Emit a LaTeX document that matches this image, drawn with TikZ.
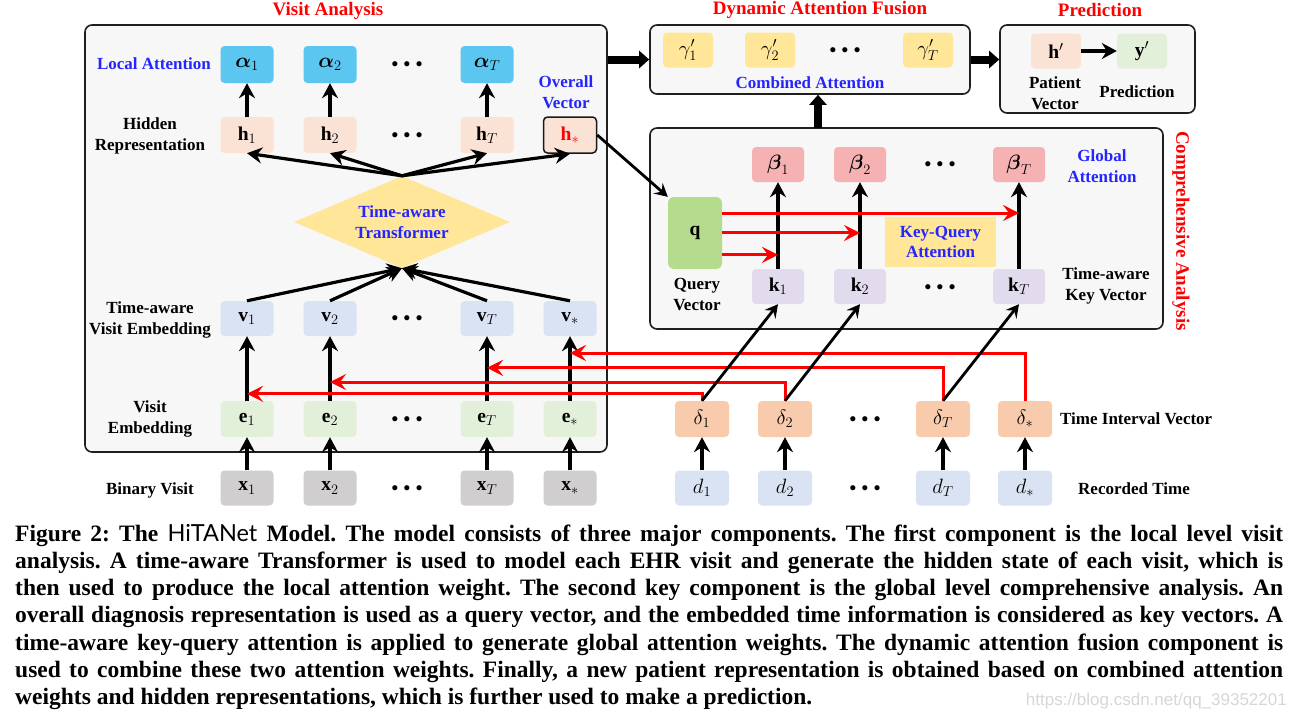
\documentclass[tikz,border=0pt]{standalone}
\usepackage{amsmath,amssymb}
\usepackage{fontspec}
\setmainfont{Liberation Serif}
\newfontfamily\capsans{Lato}
\newfontfamily\wmfont{Liberation Sans}
\usetikzlibrary{arrows.meta,shapes.geometric,calc}
\definecolor{panelgray}{RGB}{247,247,247}
\definecolor{calpha}{RGB}{91,198,240}
\definecolor{chid}{RGB}{250,226,213}
\definecolor{cv}{RGB}{218,227,243}
\definecolor{ce}{RGB}{226,240,217}
\definecolor{cx}{RGB}{208,206,206}
\definecolor{cdiam}{RGB}{255,230,153}
\definecolor{cbeta}{RGB}{246,178,178}
\definecolor{cq}{RGB}{181,220,140}
\definecolor{ck}{RGB}{226,219,237}
\definecolor{cdel}{RGB}{248,203,173}
\definecolor{myblue}{RGB}{36,36,255}
\definecolor{wmgray}{RGB}{215,215,215}
\newcommand{\threedots}{\textbf{\textbullet\hspace{5.5pt}\textbullet\hspace{5.5pt}\textbullet}}
\tikzset{
 sbox/.style={rounded corners=4pt, minimum width=53pt, minimum height=36pt, inner sep=0pt, font=\fontsize{19.5}{22}\selectfont},
 panel/.style={draw=black!88, line width=1.6pt, rounded corners=7pt, fill=panelgray, inner sep=0pt},
 lab/.style={font=\fontsize{17}{21}\selectfont\bfseries, align=center, inner sep=0pt},
 bluelab/.style={lab, text=myblue},
 ttl/.style={font=\fontsize{19}{22}\selectfont\bfseries, text=red, inner sep=0pt},
 arr/.style={line width=3.2pt, -{Stealth[length=15pt,width=16pt,inset=5pt]}},
 redarr/.style={draw=red, line width=3pt, -{Stealth[length=16pt,width=16pt,inset=6pt]}},
 thinarr/.style={line width=2.8pt, -{Stealth[length=13pt,width=14pt,inset=5pt]}},
 bigarr/.style={line width=8pt, -{Triangle[length=10pt,width=17pt]}},
 dotsn/.style={font=\fontsize{19}{20}\selectfont, inner sep=0pt},
 capline/.style={anchor=base west, inner sep=0pt, font=\fontsize{23.5}{27}\selectfont\bfseries\frenchspacing},
}
\begin{document}
\begin{tikzpicture}[x=1pt,y=-1pt]
\fill[white] (0,0) rectangle (1296,718);
\useasboundingbox (0,0) rectangle (1296,718);

% panels
\node[panel, minimum width=522pt, minimum height=427pt] (va) at (346,238.5) {};
\node[panel, minimum width=320pt, minimum height=69pt] (fu) at (810,59.5) {};
\node[panel, minimum width=195pt, minimum height=88pt] (pr) at (1097.5,69) {};
\node[panel, minimum width=513pt, minimum height=201pt] (ca) at (906.5,228.5) {};

% titles
\node[ttl] (t1) at (328,11) {Visit Analysis};
\node[ttl] (t2) at (820,10) {Dynamic Attention Fusion};
\node[ttl] (t3) at (1100,10) {Prediction};
\node[ttl, rotate=-90] (t4) at (1181,231) {Comprehensive Analysis};

% ---- Visit analysis ----
\node[sbox, fill=calpha, minimum height=37pt] (a1) at (247,64.5) {$\boldsymbol{\alpha}_1$};
\node[sbox, fill=calpha, minimum height=37pt] (a2) at (330,64.5) {$\boldsymbol{\alpha}_2$};
\node[dotsn] (ad) at (407,66) {\threedots};
\node[sbox, fill=calpha, minimum height=37pt] (aT) at (487,64.5) {$\boldsymbol{\alpha}_T$};

\node[sbox, fill=chid] (h1) at (247,135) {$\mathbf{h}_1$};
\node[sbox, fill=chid] (h2) at (330,135) {$\mathbf{h}_2$};
\node[dotsn] (hd) at (407,137) {\threedots};
\node[sbox, fill=chid] (hT) at (487,135) {$\mathbf{h}_T$};
\node[sbox, fill=chid, draw=black!90, line width=1.5pt] (hs) at (570,135) {\textcolor{red}{$\mathbf{h}_*$}};

\node[diamond, fill=cdiam, aspect=2.34, minimum width=216pt, minimum height=92pt, inner sep=0pt,
      font=\fontsize{17}{21}\selectfont\bfseries, text=myblue, align=center] (tr) at (402,222) {Time-aware\\Transformer};

\node[sbox, fill=cv, minimum height=35pt] (v1) at (247,318.5) {$\mathbf{v}_1$};
\node[sbox, fill=cv, minimum height=35pt] (v2) at (330,318.5) {$\mathbf{v}_2$};
\node[dotsn] (vd) at (407,320) {\threedots};
\node[sbox, fill=cv, minimum height=35pt] (vT) at (487,318.5) {$\mathbf{v}_T$};
\node[sbox, fill=cv, minimum height=35pt] (vs) at (570,318.5) {$\mathbf{v}_*$};

\node[sbox, fill=ce] (e1) at (247,419) {$\mathbf{e}_1$};
\node[sbox, fill=ce] (e2) at (330,419) {$\mathbf{e}_2$};
\node[dotsn] (ed) at (407,421) {\threedots};
\node[sbox, fill=ce] (eT) at (487,419) {$\mathbf{e}_T$};
\node[sbox, fill=ce] (es) at (570,419) {$\mathbf{e}_*$};

\node[sbox, fill=cx, minimum height=35pt] (x1) at (247,488) {$\mathbf{x}_1$};
\node[sbox, fill=cx, minimum height=35pt] (x2) at (330,488) {$\mathbf{x}_2$};
\node[dotsn] (xd) at (407,490) {\threedots};
\node[sbox, fill=cx, minimum height=35pt] (xT) at (487,488) {$\mathbf{x}_T$};
\node[sbox, fill=cx, minimum height=35pt] (xs) at (570,488) {$\mathbf{x}_*$};

% labels left
\node[bluelab] (l1) at (154,64) {Local Attention};
\node[lab] (l2) at (150,136) {Hidden\\Representation};
\node[bluelab] (l3) at (566,92) {Overall\\Vector};
\node[lab] (l4) at (150,320) {Time-aware\\Visit Embedding};
\node[lab] (l5) at (150,419) {Visit\\Embedding};
\node[lab] (l6) at (150,490) {Binary Visit};

% arrows left
\foreach \a/\b in {h1/a1,h2/a2,hT/aT,e1/v1,e2/v2,eT/vT,es/vs,x1/e1,x2/e2,xT/eT,xs/es}
  \draw[arr] (\a.north) -- (\b.south);
\foreach \b in {h1,h2,hT,hs}
  \draw[arr] (tr.north) -- (\b.south);
\foreach \a in {v1,v2,vT,vs}
  \draw[arr] (\a.north) -- (tr.south);

% ---- Dynamic attention fusion ----
\node[sbox, fill=cdiam, minimum width=50pt, minimum height=35pt] (g1) at (688,50) {$\gamma'_1$};
\node[sbox, fill=cdiam, minimum width=50pt, minimum height=35pt] (g2) at (770,50) {$\gamma'_2$};
\node[dotsn] (gd) at (845,52) {\threedots};
\node[sbox, fill=cdiam, minimum width=50pt, minimum height=35pt] (gT) at (928,50) {$\gamma'_T$};
\node[bluelab] (l7) at (810,83) {Combined Attention};

% ---- Prediction ----
\node[sbox, fill=chid, minimum width=50pt, minimum height=35pt] (hp) at (1056,51) {$\mathbf{h}'$};
\node[sbox, fill=ce, minimum width=50pt, minimum height=35pt] (yp) at (1142,51) {$\mathbf{y}'$};
\draw[arr] (hp.east) -- (yp.west);
\node[lab] (l8) at (1055,93) {Patient\\Vector};
\node[lab] (l9) at (1137,92) {Prediction};

% ---- Comprehensive analysis ----
\node[sbox, fill=cbeta, minimum width=52pt, minimum height=35pt] (b1) at (778,164.5) {$\boldsymbol{\beta}_1$};
\node[sbox, fill=cbeta, minimum width=52pt, minimum height=35pt] (b2) at (860,164.5) {$\boldsymbol{\beta}_2$};
\node[dotsn] (bd) at (940,166) {\threedots};
\node[sbox, fill=cbeta, minimum width=52pt, minimum height=35pt] (bT) at (1019,164.5) {$\boldsymbol{\beta}_T$};

\node[sbox, fill=ck, minimum width=52pt, minimum height=35pt] (k1) at (778,286.5) {$\mathbf{k}_1$};
\node[sbox, fill=ck, minimum width=52pt, minimum height=35pt] (k2) at (860,286.5) {$\mathbf{k}_2$};
\node[dotsn] (kd) at (940,289) {\threedots};
\node[sbox, fill=ck, minimum width=52pt, minimum height=35pt] (kT) at (1019,286.5) {$\mathbf{k}_T$};

\node[sbox, fill=cq, minimum width=54pt, minimum height=72pt, rounded corners=6pt] (q) at (695,233) {$\mathbf{q}$};
\node[fill=cdiam, minimum width=111pt, minimum height=50pt, inner sep=0pt, align=center,
      font=\fontsize{17}{20}\selectfont\bfseries, text=myblue] (kq) at (940.5,242) {Key-Query\\Attention};

\node[lab] (l10) at (697,294) {Query\\Vector};
\node[bluelab] (l11) at (1102,166) {Global\\Attention};
\node[lab] (l12) at (1106,286) {Time-aware\\Key Vector};

\foreach \a/\b in {k1/b1,k2/b2,kT/bT}
  \draw[arr] (\a.north) -- (\b.south);

\coordinate (p1) at ($(k1.north)!0.161!(b1.south)$);
\coordinate (p2) at ($(k2.north)!0.414!(b2.south)$);
\coordinate (p3) at ($(kT.north)!0.644!(bT.south)$);
\draw[redarr] (q.east |- p1) -- (p1);
\draw[redarr] (q.east |- p2) -- (p2);
\draw[redarr] (q.east |- p3) -- (p3);

% ---- time rows ----
\node[sbox, fill=cdel, minimum width=54pt] (dl1) at (702,419) {$\delta_1$};
\node[sbox, fill=cdel, minimum width=54pt] (dl2) at (785,419) {$\delta_2$};
\node[dotsn] (dld) at (865,421) {\threedots};
\node[sbox, fill=cdel, minimum width=54pt] (dlT) at (943,419) {$\delta_T$};
\node[sbox, fill=cdel, minimum width=54pt] (dls) at (1025,419) {$\delta_*$};

\node[sbox, fill=cv, minimum width=54pt, minimum height=35pt] (d1) at (702,488) {$d_1$};
\node[sbox, fill=cv, minimum width=54pt, minimum height=35pt] (d2) at (785,488) {$d_2$};
\node[dotsn] (dd) at (865,490) {\threedots};
\node[sbox, fill=cv, minimum width=54pt, minimum height=35pt] (dT) at (943,488) {$d_T$};
\node[sbox, fill=cv, minimum width=54pt, minimum height=35pt] (ds) at (1025,488) {$d_*$};

\node[lab, anchor=west] (l13) at (1060,419) {Time Interval Vector};
\node[lab] (l14) at (1134,489) {Recorded Time};

\foreach \a/\b in {d1/dl1,d2/dl2,dT/dlT,ds/dls}
  \draw[arr] (\a.north) -- (\b.south);

% red time lines
\draw[redarr] (dl1.north) |- ($(e1.north)!0.108!(v1.south)$);
\draw[redarr] (dl2.north) |- ($(e2.north)!0.29!(v2.south)$);
\draw[redarr] (dlT.north) |- ($(eT.north)!0.51!(vT.south)$);
\draw[redarr] (dls.north) |- ($(es.north)!0.74!(vs.south)$);

% diagonal key arrows
\draw[thinarr] (dl1.north) -- (k1.south);
\draw[thinarr] (dl2.north) -- (k2.south);
\draw[thinarr] (dlT.north) -- (kT.south);

% overall vector to query
\draw[thinarr] (hs.east) -- (q.north west);

% big arrows between panels
\draw[bigarr] (va.east |- fu.west) -- (fu.west);
\draw[bigarr] (fu.east) -- (fu.east -| pr.west);
\coordinate (caup) at (818,128);
\draw[bigarr] (caup) -- (caup |- fu.south);

% caption
\node[capline] (c1) at (15,541) {\makebox[1268pt][s]{Figure 2: The {\capsans\mdseries HiTANet} Model. The model consists of three major components. The first component is the local level visit}};
\node[capline] (c2) at (15,568.3) {\makebox[1268pt][s]{analysis. A time-aware Transformer is used to model each EHR visit and generate the hidden state of each visit, which is}};
\node[capline] (c3) at (15,595.6) {\makebox[1268pt][s]{then used to produce the local attention weight. The second key component is the global level comprehensive analysis. An}};
\node[capline] (c4) at (15,622.9) {\makebox[1268pt][s]{overall diagnosis representation is used as a query vector, and the embedded time information is considered as key vectors. A}};
\node[capline] (c5) at (15,650.2) {\makebox[1268pt][s]{time-aware key-query attention is applied to generate global attention weights. The dynamic attention fusion component is}};
\node[capline] (c6) at (15,677.5) {\makebox[1268pt][s]{used to combine these two attention weights. Finally, a new patient representation is obtained based on combined attention}};
\node[capline] (c7) at (15,704.8) {weights and hidden representations, which is further used to make a prediction.};
\node[anchor=base east, inner sep=0pt, font=\wmfont\fontsize{17}{20}\selectfont, text=wmgray] (wm) at (1287,705) {https://blog.csdn.net/qq\_39352201};
\end{tikzpicture}
\end{document}
